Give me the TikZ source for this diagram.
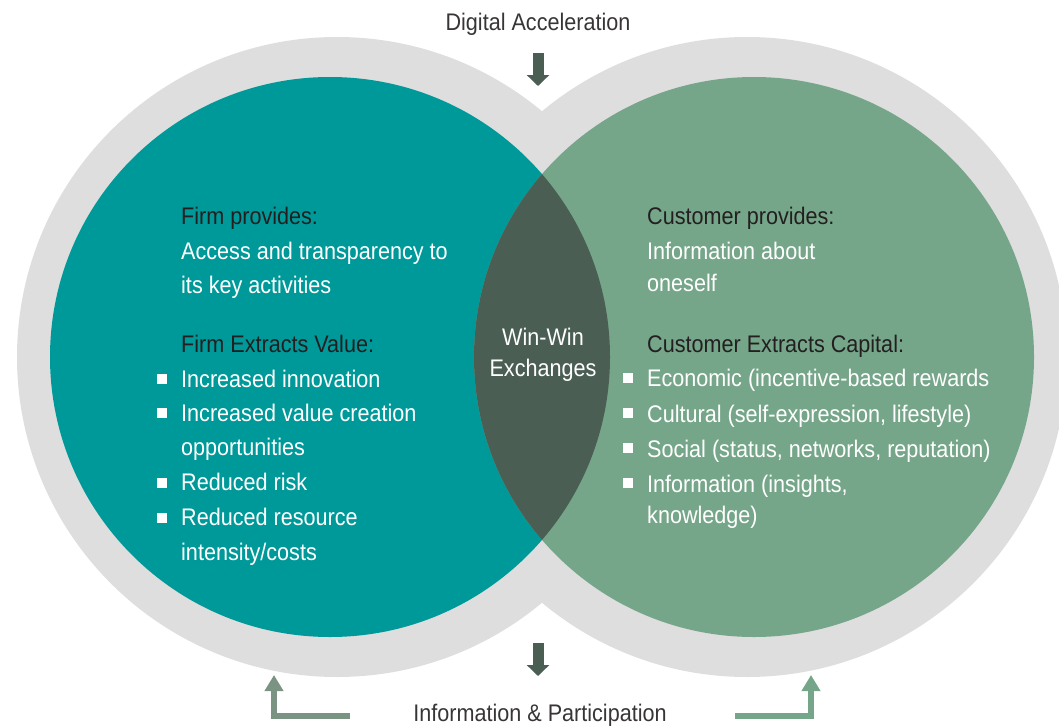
\documentclass[tikz,border=0pt]{standalone}
\usepackage{fontspec}
\setmainfont{Liberation Sans}
\newfontfamily\narrowsf[FakeStretch=0.9]{Liberation Sans}
\usetikzlibrary{arrows.meta}
\definecolor{ringgray}{HTML}{DEDEDE}
\definecolor{firmteal}{HTML}{009999}
\definecolor{custgreen}{HTML}{76A689}
\definecolor{lensdark}{HTML}{4A5E54}
\definecolor{headdark}{HTML}{231F20}
\definecolor{loopgreen}{HTML}{7A9383}
\tikzset{
  txt/.style={anchor=base west,inner sep=0pt,font=\narrowsf\fontsize{24}{29}\selectfont},
  head/.style={txt,text=headdark},
  body/.style={txt,text=white},
  title/.style={txt,anchor=base,text=headdark!90},
  downarrow/.style={line width=11pt,lensdark,-{Triangle[width=22pt,length=11pt]}},
  looparrow/.style={line width=6pt,-{Triangle[width=18pt,length=16pt]}},
}
\begin{document}
\begin{tikzpicture}[x=1pt,y=-1pt]
\useasboundingbox (0,0) rectangle (1059,725);
% rings and circles
\fill[ringgray] (337,357) circle (320pt) (747,357) circle (320pt);
\fill[firmteal] (330,357) circle (280pt);
\fill[custgreen] (754,357) circle (280pt);
\begin{scope}
\clip (330,357) circle (280pt);
\fill[lensdark] (754,357) circle (280pt);
\end{scope}
% titles and arrows
\node[title] (acc) at (538,31) {Digital Acceleration};
\node[title] (info) at (540,721) {Information \& Participation};
\coordinate (top1) at (538,53); \coordinate (top2) at (538,86);
\coordinate (bot1) at (538,643); \coordinate (bot2) at (538,676);
\draw[downarrow] (top1)--(top2);
\draw[downarrow] (bot1)--(bot2);
\coordinate (la1) at (350,716); \coordinate (la2) at (274,675);
\coordinate (ra1) at (735,716); \coordinate (ra2) at (811,675);
\draw[looparrow,loopgreen] (la1)-|(la2);
\draw[looparrow,custgreen] (ra1)-|(ra2);
% centre
\node[txt,anchor=base,text=white] (win) at (543,345) {Win-Win};
\node[txt,anchor=base,text=white] (exch) at (543,376) {Exchanges};
% firm side
\node[head] (fp) at (181,224) {Firm provides:};
\foreach \y/\t [count=\i] in {259/Access and transparency to,293/its key activities}
  \node[body] (fa\i) at (181,\y) {\t};
\node[head] (fv) at (181,352) {Firm Extracts Value:};
\foreach \y/\t [count=\i] in {387/Increased innovation,421/Increased value creation,455/opportunities,490/Reduced risk,525/Reduced resource,560/{intensity/costs}}
  \node[body] (fb\i) at (181,\y) {\t};
\foreach \y in {379,413,483,518}{\fill[white] (157,\y-5) rectangle ++(10,10);}
% customer side
\node[head] (cp) at (647,224) {Customer provides:};
\foreach \y/\t [count=\i] in {259/Information about,291/oneself}
  \node[body] (ca\i) at (647,\y) {\t};
\node[head] (cv) at (647,352) {Customer Extracts Capital:};
\foreach \y/\t [count=\i] in {386/{Economic (incentive-based rewards},422/{Cultural (self-expression, lifestyle)},457/{Social (status, networks, reputation)},492/{Information (insights,},523/{knowledge)}}
  \node[body] (cb\i) at (647,\y) {\t};
\foreach \y in {378,413,448,483}{\fill[white] (623,\y-5) rectangle ++(10,10);}
\end{tikzpicture}
\end{document}
